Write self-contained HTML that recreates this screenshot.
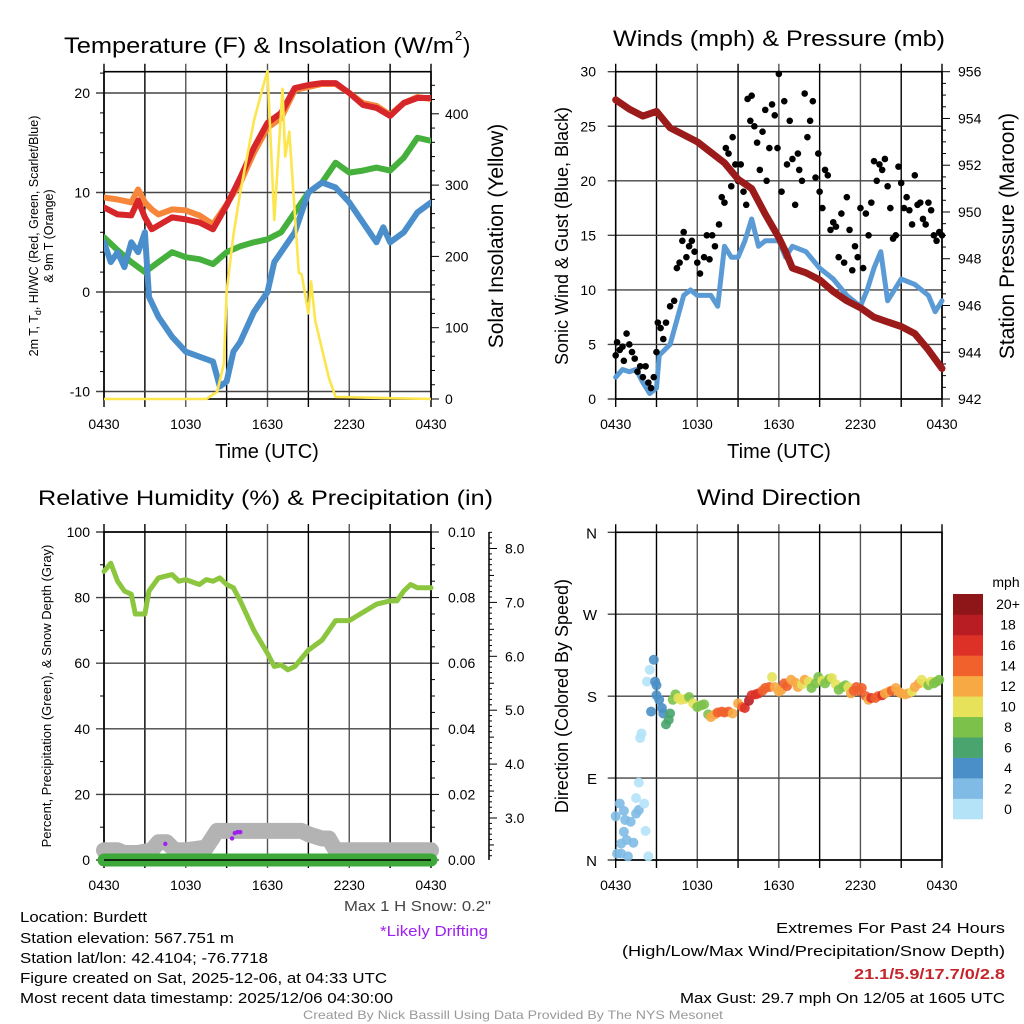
<!DOCTYPE html>
<html><head><meta charset="utf-8"><style>
html,body{margin:0;padding:0;background:#fff}
svg{display:block;font-family:"Liberation Sans",sans-serif}
</style></head><body>
<svg id="svg" width="1024" height="1024" viewBox="0 0 1024 1024"></svg>
<script>
// ---------- DATA ----------
const tHours=[0,1,2,2.5,3,3.5,4,5,6,7,8,8.5,9,10,11,12,13,14,15,16,17,18,19,20,21,22,23,24];
const tempRed=[8.5,7.8,7.7,9.2,7.5,6.3,6.7,7.5,7.3,7.0,6.3,7.5,8.7,11.5,14.5,17,18,20.5,20.8,21,21,20,18.8,18.5,17.7,19,19.5,19.5];
const temp9mOrange=[9.5,9.3,9.0,10.3,9.0,8.3,7.8,8.3,8.2,7.7,6.8,7.8,8.8,11,14,16.5,17.5,20.3,20.6,20.9,20.9,20,19,18.7,17.8,19,19.6,19.4];
const gHours=[0,1,2,3,3.5,4,5,6,7,8,9,10,11,12,13,14,15,16,17,18,19,20,21,22,23,24];
const dewGreen=[5.5,4.2,3.0,2.0,2.5,3.0,4.0,3.5,3.3,2.8,4.0,4.6,5.0,5.3,6.0,8.0,10.0,11.0,13.0,12.0,12.2,12.5,12.2,13.5,15.5,15.2];
const bHours=[0,0.5,1,1.5,2,2.5,3,3.3,4,5,6,7,8,8.5,9,9.5,10,11,12,12.5,13,14,15,16,17,18,19,20,20.5,21,22,23,24];
const windChillBlue=[5,3,4,2.5,5,4,6,-0.5,-2.5,-4.5,-6,-6.5,-7,-9.5,-9,-6,-5,-2,0,3,4,6,10,11,10.5,9,7,5,6.5,5,6,8,9];
const sHours=[0,7.5,8.3,8.8,9,9.5,10,11,11.7,12,12.5,13.1,13.3,13.6,14.3,14.5,15,15.2,15.5,16,16.5,17,24];
const solarYellow=[0,0,10,50,150,230,290,390,440,460,251,435,340,375,177,175,120,165,110,70,30,3,0];
const xTickLabels=["0430","1030","1630","2230","0430"];

const wHours=[0,0.5,1,1.5,2,2.5,3,3.2,4,5,5.5,6,7,7.5,8,8.5,9,9.5,10,10.5,11,12,12.5,13,14,15,16,17,18,18.5,19,19.5,20,20.5,21,22,23,23.5,24];
const windBlue=[2,2.7,2.5,2.7,1.5,0.5,1,4,5,9.5,10,9.5,9.5,8.5,14,13,13,14.5,16.5,14,14.5,14.5,13,14,13.5,12,11,9.5,8.5,10,12,13.5,9,10,11,10.5,9.5,8,9];
const gustHours=[0,0.1,0.3,0.5,0.6,0.8,1.0,1.2,1.4,1.6,1.8,2.0,2.2,2.4,2.6,2.8,3.0,3.1,3.3,3.5,3.7,4.0,4.3,4.5,4.7,4.9,5.0,5.2,5.4,5.6,5.8,6.0,6.2,6.5,6.7,6.9,7.1,7.3,7.6,7.8,8.0,8.1,8.3,8.5,8.6,8.8,9.0,9.2,9.4,9.6,9.7,9.9,10.0,10.2,10.4,10.6,10.8,11.0,11.1,11.3,11.5,11.7,11.9,12.0,12.2,12.4,12.6,12.8,13.0,13.2,13.4,13.5,13.7,13.9,14.1,14.3,14.5,14.7,14.9,15.0,15.2,15.4,15.6,15.8,16.0,16.2,16.4,16.6,16.8,17.0,17.2,17.4,17.6,17.8,18.0,18.2,18.4,18.6,18.8,19.0,19.2,19.4,19.6,19.8,20.0,20.2,20.4,20.6,20.8,21.0,21.2,21.4,21.6,21.8,22.0,22.2,22.4,22.6,22.8,23.0,23.2,23.4,23.6,23.8,24.0];
const gustBlack=[4,5.2,4.5,4.8,3.5,6,5,4.3,3.7,2.5,3,2,3,1.5,1,2,4.3,7,6.5,5.5,7,8.5,9,12,12.5,14.5,15.3,13,14,14.5,13.5,12.5,11.5,13,15,12.8,15,14,16,18.5,18,23,22.5,19.5,24,21.5,20,21.5,19,17.8,27.5,25.5,27.8,25,23.5,21,24.5,26.5,20,23,27,26,23,29.8,19,27.3,21.5,25.5,22,17.8,22.5,21,20,28,24,25.5,27.3,20.3,22.5,19,17.5,21,20.5,15.5,16.2,15.8,13,17,12.5,18.5,15.5,11.8,14,13,17.5,12,17,15,18,21.8,20,21.5,21,22,19.5,17.5,14.7,15,21.3,19.8,17.5,18.5,17.3,16,20.5,17.8,18,16.5,16,18,17.3,15,14.5,15.3,15];
const pHours=[0,1,2,3,4,6,8,9,10,11,12,12.5,13,14,15,16,17,18,19,20,21,22,23,24];
const pressureMaroon=[954.8,954.4,954.1,954.3,953.6,953.0,952.1,951.4,951.0,949.9,948.9,948.3,947.6,947.4,947.1,946.6,946.2,945.9,945.5,945.3,945.1,944.8,944.1,943.3];

const rhHours=[0,0.5,1,1.5,2,2.3,3,3.3,4,5,5.5,6,7,7.5,8,8.5,9,9.5,10,11,12,12.5,13,13.5,14,15,16,16.5,17,18,19,20,21,21.5,22,22.5,23,24];
const rhGreen=[88,90.5,85,82,81,75,75,82,86,87,85,85.5,84,85.5,85,86,84,83,79,70,63,59,59.5,58,59,64,67,70,73,73,75.5,78,79,79,82,84,83,83];
const snowHours=[0,1,1.5,2.5,3.5,4,4.6,5.2,6,7.5,8.3,14.5,15,16,16.5,17,24];
const snowGray=[2.4,2.4,2.35,2.35,2.4,2.55,2.55,2.4,2.4,2.45,2.76,2.76,2.7,2.62,2.62,2.4,2.4];
const precipHours=[0,24];
const precipGreen=[0,0];
const driftHours=[4.5,9.4,9.6,9.8,10.0];
const driftSnow=[2.52,2.62,2.72,2.74,2.74];

const dHours=[0,0.3,0.6,0.1,0.4,0.7,0.6,0.4,0.8,1.3,0.9,1.1,1.5,1.7,1.5,1.7,2.1,2.2,2.4,1.8,1.9,2.5,2.3,2.6,2.8,2.9,3.0,3.0,3.2,3.4,3.5,3.7,3.9,4.0,4.2,4.4,4.6,4.8,5.1,5.4,5.7,6.0,6.3,6.5,6.8,7.0,7.3,7.5,7.8,8.0,8.3,8.6,9.0,9.3,9.5,9.8,10.0,10.3,10.5,10.8,11.0,11.3,11.5,11.7,12.0,12.2,12.4,12.6,12.9,13.2,13.4,13.7,13.9,14.2,14.4,14.7,14.9,15.2,15.4,15.7,15.9,16.2,16.4,16.7,16.9,17.1,17.3,17.5,17.7,17.9,18.1,18.4,18.6,18.8,19.1,19.3,19.6,19.8,20.1,20.3,20.6,20.8,21.0,21.3,21.5,21.8,22.0,22.3,22.5,22.8,23.0,23.2,23.4,23.6,23.8];
const dDir=[48,62,54,7,7,44,31,18,22,19,4,42,51,55,68,85,62,32,4,134,139,209,196,163,220,196,192,181,176,167,161,149,154,161,176,182,178,176,177,179,172,168,170,171,160,157,160,162,163,162,163,161,172,168,167,175,181,182,183,186,189,190,201,190,185,187,194,191,198,195,190,193,198,196,189,194,201,197,194,199,200,193,187,190,192,190,183,186,190,186,189,180,176,178,178,180,181,183,185,186,189,185,183,182,183,185,190,194,198,194,192,196,194,196,198,200,201];
const dSpeed=[3,3,3,2,3,3,3,3,3,3,3,3,3,3,1,1,1,1,1,1,1,1,1,5,4,5,4,4,4,4,4,7,7,6,8,8,10,10,10,9,10,8,9,9,8,12,13,14,14,14,14,13,12,15,17,18,16,16,17,15,15,14,11,13,13,12,14,14,12,13,12,11,12,10,9,9,8,10,8,9,10,10,9,8,8,11,13,14,15,14,15,14,13,16,15,14,16,12,12,14,13,13,12,13,12,11,13,12,10,11,9,10,8,9,8,9,10];
const cbLabels=["0","2","4","6","8","10","12","14","16","18","20+"];
const cbColors=["#b4e3f8","#7fbbe4","#4a8fc7","#49a56d","#7cc24a","#e6e25a","#f7a944","#f0612c","#dd3128","#b91d24","#8e1619"];

// ---------- HELPERS ----------
const NS="http://www.w3.org/2000/svg";
const svg=document.getElementById('svg');
function mk(tag,attrs,parent){const e=document.createElementNS(NS,tag);for(const k in attrs)e.setAttribute(k,attrs[k]);(parent||svg).appendChild(e);return e;}
function txt(s,x,y,size,opts,parent){opts=opts||{};const e=mk('text',{x:x,y:y,'font-size':size,fill:opts.fill||'#000','text-anchor':opts.anchor||'start'},parent);
 if(opts.len){e.setAttribute('textLength',opts.len);e.setAttribute('lengthAdjust','spacingAndGlyphs');}
 if(opts.weight)e.setAttribute('font-weight',opts.weight);
 if(opts.rot)e.setAttribute('transform','rotate(-90 '+x+' '+y+')');
 e.textContent=s;return e;}
function line(x1,y1,x2,y2,st,w,parent){return mk('line',{x1:x1,y1:y1,x2:x2,y2:y2,stroke:st||'#000','stroke-width':w||1},parent);}
function pathFrom(xs,ys,fx,fy){return xs.map((h,i)=>(i?'L':'M')+fx(h).toFixed(1)+','+fy(ys[i]).toFixed(1)).join('');}

const L=104,R=431,L2=615.7,R2=942;
const xA=h=>L+h*(R-L)/24, xB=h=>L2+h*(R2-L2)/24;

function panelGrid(g,x0,x1,y0,y1,hy,xf,frameColor){
 for(let h=0;h<=24;h+=3){const x=xf(h);line(x,y0-8,x,y1+8,(h%6===0&&h>0&&h<24)?'#555':'#000',1.4,g);}
 hy.forEach(y=>{line(x0-8,y,x1,y,'#444',1.4,g);});
 mk('rect',{x:x0,y:y0,width:x1-x0,height:y1-y0,fill:'none',stroke:frameColor||'#000','stroke-width':1.6},g);
}
function xLabels(g,xf,y){xTickLabels.forEach((s,i)=>{const t=txt(s,xf(i*6),y,14,{anchor:'middle'},g);});}

// ---------- PANEL 1: Temperature ----------
(function(){
 const g=mk('g',{});
 const y0=71.7,y1=399;
 const yT=v=>292-v*9.95;
 const yS=v=>399-v*0.713;
 const hy=[20,10,0,-10].map(yT);
 panelGrid(g,L,R,y0,y1,hy,xA);
 for(let v=-10;v<=22;v+=2){if(v%10)line(L-4,yT(v),L,yT(v),'#000',1,g);}
 for(let v=0;v<=450;v+=20){const y=yS(v);line(R,y,R+(v%100===0?8:4),y,'#000',1,g);}
 [20,10,0,-10].forEach(v=>{const t=txt(String(v),90,yT(v)+5,14,{anchor:'end'},g);});
 [0,100,200,300,400].forEach(v=>{const t=txt(String(v),445,yS(v)+5,14,{},g);});
 xLabels(g,xA,429);
 const clip=mk('clipPath',{id:'c1'},g);mk('rect',{x:L,y:y0-2,width:R-L,height:y1-y0+4},clip);
 const cg=mk('g',{'clip-path':'url(#c1)'},g);
 const series=[[tHours,temp9mOrange,'#f6873a','orange-9m-temp-line'],[gHours,dewGreen,'#45b03c','green-dewpoint-line'],[bHours,windChillBlue,'#4a8fcb','blue-windchill-line'],[tHours,tempRed,'#d7262a','red-2m-temp-line']];
 series.forEach(s=>{const p=mk('path',{d:pathFrom(s[0],s[1],xA,yT),fill:'none',stroke:s[2],'stroke-width':6,'stroke-linejoin':'round','stroke-linecap':'round'},cg);});
 const py=mk('path',{d:pathFrom(sHours,solarYellow,xA,yS),fill:'none',stroke:'#fce54d','stroke-width':2.6,'stroke-linejoin':'round'},cg);
 
 txt('Temperature (F) & Insolation (W/m',64,53,22,{len:390},g);
 txt('2',455,40,13,{},g);txt(')',463,53,22,{},g);
 txt('Time (UTC)',267,458,20,{anchor:'middle'},g);
 const yl=mk('text',{transform:'translate(38,236) rotate(-90)','font-size':12.5,'text-anchor':'middle'},g);
 
 yl.innerHTML='2m T, T<tspan font-size="9" dy="3">d</tspan><tspan dy="-3">, HI/WC (Red, Green, Scarlet/Blue)</tspan>';
 txt('& 9m T (Orange)',53,236,12.5,{anchor:'middle',rot:1},g);
 txt('Solar Insolation (Yellow)',503,236,21,{anchor:'middle',rot:1},g);
})();

// ---------- PANEL 2: Winds & Pressure ----------
(function(){
 const g=mk('g',{});
 const y0=71.7,y1=399;
 const yW=v=>399-v*10.91;
 const yP=v=>71.7+(956-v)*23.38;
 panelGrid(g,L2,R2,y0,y1,[30,25,20,15,10,5,0].map(yW),xB);
 for(let v=942;v<=956;v+=0.5){const y=yP(v);line(R2,y,R2+(v%2===0?8:4),y,'#000',1,g);}
 [0,5,10,15,20,25,30].forEach(v=>{const t=txt(String(v),596,yW(v)+5,14,{anchor:'end'},g);});
 [942,944,946,948,950,952,954,956].forEach(v=>{const t=txt(String(v),958,yP(v)+5,14,{},g);});
 xLabels(g,xB,429);
 const pw=mk('path',{d:pathFrom(wHours,windBlue,xB,yW),fill:'none',stroke:'#5b9bd5','stroke-width':5,'stroke-linejoin':'round','stroke-linecap':'round'},g);
 
 gustHours.forEach((h,i)=>{const c=mk('circle',{cx:xB(h),cy:yW(gustBlack[i]),r:3.3,fill:'#000'},g);
  });
 const pp=mk('path',{d:pathFrom(pHours,pressureMaroon,xB,yP),fill:'none',stroke:'#9b1b1b','stroke-width':7,'stroke-linejoin':'round','stroke-linecap':'round'},g);
 
 txt('Winds (mph) & Pressure (mb)',613,46,22,{len:332},g);
 txt('Time (UTC)',779,458,20,{anchor:'middle'},g);
 txt('Sonic Wind & Gust (Blue, Black)',568,236,18,{anchor:'middle',rot:1},g);
 txt('Station Pressure (Maroon)',1014,236,21,{anchor:'middle',rot:1},g);
})();

// ---------- PANEL 3: RH & Precip ----------
(function(){
 const g=mk('g',{});
 const y0=532,y1=860;
 const yR=v=>860-v*3.28;
 const ySn=v=>818-(v-3)*53.9;
 panelGrid(g,L,R,y0,y1,[100,80,60,40,20,0].map(yR),xA);
 for(let v=0;v<=100;v+=10){if(v%20)line(L-4,yR(v),L,yR(v),'#000',1,g);}
 for(let v=0;v<=0.1001;v+=0.005){const y=yR(v*1000);line(R,y,R+(Math.round(v*1000)%20===0?8:4),y,'#000',1,g);}
 [100,80,60,40,20,0].forEach(v=>{const t=txt(String(v),90,yR(v)+5,14,{anchor:'end'},g);});
 ['0.00','0.02','0.04','0.06','0.08','0.10'].forEach((s,i)=>{const t=txt(s,448,yR(i*20)+5,14,{},g);});
 line(489,532,489,860,'#000',1.5,g);
 for(let v=2.3;v<=8.3;v+=0.1){const r=Math.round(v*10);const y=ySn(v);if(y<532||y>860)continue;line(489,y,489+(r%10===0?8:(r%5===0?5:3)),y,'#000',1,g);}
 ['3.0','4.0','5.0','6.0','7.0','8.0'].forEach((s,i)=>{const t=txt(s,505,ySn(3+i)+5,14,{},g);});
 xLabels(g,xA,890);
 const ps=mk('path',{d:pathFrom(snowHours,snowGray,xA,ySn),fill:'none',stroke:'#b3b3b3','stroke-width':16,'stroke-linejoin':'round','stroke-linecap':'round'},g);
 
 const pr=mk('path',{d:pathFrom(precipHours,precipGreen,xA,v=>yR(v)),fill:'none',stroke:'#3ea83a','stroke-width':13,'stroke-linecap':'round'},g);
 
 line(L,860,R,860,'#000',1.6,g);
 driftHours.forEach((h,i)=>{const c=mk('circle',{cx:xA(h),cy:ySn(driftSnow[i]),r:2.2,fill:'#a020f0'},g);});
 const prh=mk('path',{d:pathFrom(rhHours,rhGreen,xA,yR),fill:'none',stroke:'#8cc63f','stroke-width':5,'stroke-linejoin':'round','stroke-linecap':'round'},g);
 
 txt('Relative Humidity (%) & Precipitation (in)',38,505,21,{len:455},g);
 txt('Percent, Precipitation (Green), & Snow Depth (Gray)',51,696,13,{anchor:'middle',rot:1},g);
})();

// ---------- PANEL 4: Wind Direction ----------
(function(){
 const g=mk('g',{});
 const y0=532.3,y1=860;
 const yD=v=>860-v*(y1-y0)/360;
 panelGrid(g,L2,R2,y0,y1,[0,90,180,270,360].map(yD),xB);
 ['N','E','S','W','N'].forEach((s,i)=>{const t=txt(s,597,yD(i*90)+6,15,{anchor:'end'},g);});
 xLabels(g,xB,890);
 dHours.forEach((h,i)=>{const ci=Math.min(10,Math.floor(dSpeed[i]/2));const c=mk('circle',{cx:xB(h),cy:yD(dDir[i]),r:5,fill:cbColors[ci],'fill-opacity':0.9},g);
  });
 txt('Wind Direction',779,505,22,{anchor:'middle',len:164},g);
 txt('Direction (Colored By Speed)',568,696,18,{anchor:'middle',rot:1},g);
 const cb=mk('g',{},g);
 const bh=(819-594)/11;
 cbColors.forEach((c,i)=>{const r=mk('rect',{x:953,y:819-(i+1)*bh,width:30,height:bh+0.3,fill:c},cb);
  const t=txt(cbLabels[i],1008,819-(i+0.5)*bh+5,14,{anchor:'middle'},cb);});
 txt('mph',1006,587,14,{anchor:'middle'},cb);
})();

// ---------- FOOTER ----------
(function(){
 const g=mk('g',{});
 const left=[['Location: Burdett',922,127],['Station elevation: 567.751 m',943,214],['Station lat/lon: 42.4104; -76.7718',963,248],['Figure created on Sat, 2025-12-06, at 04:33 UTC',983,367],['Most recent data timestamp: 2025/12/06 04:30:00',1003,373]];
 left.forEach(a=>{const t=txt(a[0],20,a[1],15,{len:a[2]},g);});
 txt('Max 1 H Snow: 0.2"',344,911,15,{len:147,fill:'#444'},g);
 txt('*Likely Drifting',380,936,15,{len:108,fill:'#a020f0'},g);
 txt('Extremes For Past 24 Hours',776,933,15,{len:229},g);
 txt('(High/Low/Max Wind/Precipitation/Snow Depth)',622,956,15,{len:383},g);
 txt('21.1/5.9/17.7/0/2.8',854,979,15,{len:151,fill:'#c4262b',weight:'bold'},g);
 txt('Max Gust: 29.7 mph On 12/05 at 1605 UTC',680,1003,15,{len:325},g);
 txt('Created By Nick Bassill Using Data Provided By The NYS Mesonet',303,1019,12,{len:420,fill:'#999'},g);
})();
</script>
</body></html>
